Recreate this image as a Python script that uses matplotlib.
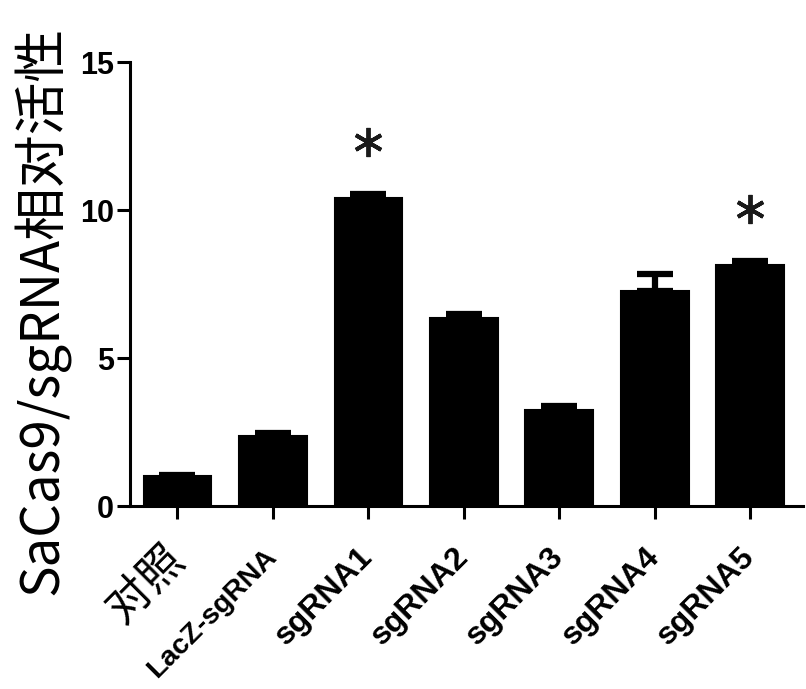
import matplotlib
matplotlib.use("Agg")
import matplotlib.pyplot as plt
import matplotlib.transforms as mtransforms
import numpy as np

categories = ["对照", "LacZ-sgRNA", "sgRNA1", "sgRNA2", "sgRNA3", "sgRNA4", "sgRNA5"]
values = [1.0, 2.35, 10.4, 6.35, 3.25, 7.25, 8.15]
errors = [0.05, 0.12, 0.14, 0.12, 0.12, 0.6, 0.14]
significant = [False, False, True, False, False, False, True]
yticks = [0, 5, 10, 15]
ylabel = "SaCas9/sgRNA相对活性"

fig = plt.figure(figsize=(8.06, 6.89), dpi=100)
ax = fig.add_axes([0.161, 0.2656, 0.835, 0.6444])

x = np.arange(len(categories))
ax.bar(x, values, width=0.71, color="black", edgecolor="black", linewidth=1.5,
       yerr=[np.zeros(len(values)), errors], capsize=13,
       error_kw=dict(ecolor="black", elinewidth=4.5, capthick=4.5), zorder=2)

for xi, v, e, s in zip(x, values, errors, significant):
    if s:
        ax.plot(xi, v + e + 1.75, marker=(6, 2, 0), markersize=21, mew=2.8,
                color="#1a1a1a", linestyle="none")

ax.set_xlim(-0.5, 6.55)
ax.set_ylim(0, 15)
ax.set_yticks(yticks)
ax.set_yticklabels([str(t) for t in yticks], fontsize=22, fontweight="bold",
                   family=["Liberation Sans", "DejaVu Sans"])
ax.set_xticks(x)
ax.set_xticklabels(categories, rotation=45, ha="right", va="center", rotation_mode="anchor",
                   fontsize=23, fontweight="bold",
                   family=["Liberation Sans", "Noto Sans CJK SC"])
labels = ax.get_xticklabels()
labels[0].set_fontsize(32)
labels[0].set_fontweight("normal")
labels[1].set_fontsize(20.5)
shift = mtransforms.ScaledTranslation(0.05, 0, fig.dpi_scale_trans)
for lab in labels:
    lab.set_transform(lab.get_transform() + shift)

for side in ["top", "right"]:
    ax.spines[side].set_visible(False)
for side in ["left", "bottom"]:
    ax.spines[side].set_linewidth(2.2)
ax.tick_params(axis="both", length=9.5, width=2.2, pad=2)
ax.tick_params(axis="x", pad=24)

ax.set_ylabel(ylabel, fontsize=38, family=["Noto Sans CJK SC", "DejaVu Sans"], va="center")
ax.yaxis.set_label_coords(-0.13, 0.441)

fig.savefig("out.png", dpi=100)
